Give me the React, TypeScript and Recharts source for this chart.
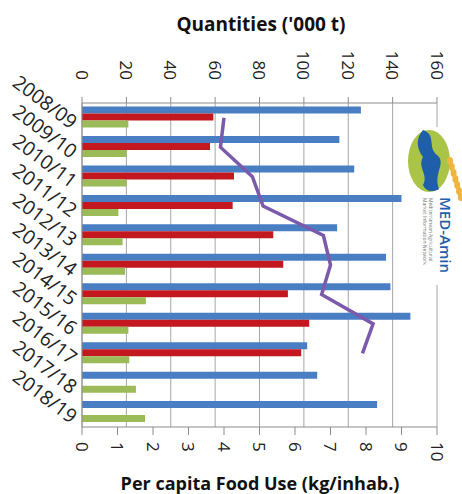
import {
  ComposedChart,
  Bar,
  Line,
  XAxis,
  YAxis,
  CartesianGrid,
} from "recharts";

// marketing years (category axis, top to bottom)
const YEARS = [
  "2008/09", "2009/10", "2010/11", "2011/12", "2012/13", "2013/14",
  "2014/15", "2015/16", "2016/17", "2017/18", "2018/19",
];

// quantities, '000 t (top axis)
const BLUE = [125.7, 116, 122.7, 144, 115, 137, 139, 148, 101.5, 106, 133];
const RED = [59.2, 57.7, 68.5, 67.9, 86.2, 90.7, 92.8, 102.4, 98.8, null, null];
const GREEN = [20.9, 20.1, 20.1, 16.4, 18.3, 19.4, 28.8, 20.9, 21.3, 24.3, 28.4];

// per capita food use, kg/inhab. (bottom axis)
const PER_CAPITA = [4.0, 3.9, 4.8, 5.1, 6.8, 7.0, 6.75, 8.2, 7.9, null, null];

const TOP_TICKS = [0, 20, 40, 60, 80, 100, 120, 140, 160];
const BOTTOM_TICKS = [0, 1, 2, 3, 4, 5, 6, 7, 8, 9, 10];

const data = YEARS.map((year, i) => ({
  year,
  blue: BLUE[i],
  red: RED[i],
  green: GREEN[i],
  perCapita: PER_CAPITA[i],
}));

const FONT = "'Open Sans', sans-serif";
const AXIS_COLOR = "#8c8c8c";

function TopTick({ x, y, payload }: any) {
  const ty = y - 15;
  return (
    <text
      x={x}
      y={ty}
      transform={`rotate(90, ${x}, ${ty})`}
      textAnchor="end"
      dominantBaseline="central"
      fontSize={17}
      fontFamily={FONT}
      fill="#222"
    >
      {payload.value}
    </text>
  );
}

function BottomTick({ x, y, payload }: any) {
  const ty = y + 5;
  return (
    <text
      x={x}
      y={ty}
      transform={`rotate(90, ${x}, ${ty})`}
      textAnchor="start"
      dominantBaseline="central"
      fontSize={17}
      fontFamily={FONT}
      fill="#222"
    >
      {payload.value}
    </text>
  );
}

function YearTick({ x, y, payload }: any) {
  const tx = x - 3;
  const ty = y + 6;
  return (
    <text
      x={tx}
      y={ty}
      transform={`rotate(37, ${tx}, ${ty})`}
      textAnchor="end"
      dominantBaseline="central"
      fontSize={19.5}
      fontFamily={FONT}
      fill="#222"
    >
      {payload.value}
    </text>
  );
}

// rough stand-in for the MED-Amin logo in the corner
function Logo() {
  return (
    <svg
      width={59}
      height={158}
      style={{ position: "absolute", left: 403, top: 127 }}
    >
      <rect x={0} y={0} width={59} height={158} fill="#fff" />
      <ellipse cx={26} cy={34} rx={21} ry={31} fill="#a9c447" />
      <path
        d="M20 3 C34 8 24 20 34 28 C44 36 30 46 36 62 C30 66 22 64 20 58 C26 48 14 40 20 30 C14 22 12 12 20 3 Z"
        fill="#1f5ea8"
      />
      {[0, 1, 2, 3, 4, 5, 6].map((k) => (
        <ellipse
          key={k}
          cx={47 + k * 1.8}
          cy={34 + k * 6}
          rx={3}
          ry={4}
          fill="#f0b541"
        />
      ))}
      <text
        x={37}
        y={70}
        transform="rotate(90, 37, 70)"
        fontSize={15}
        fontFamily={FONT}
        fill="#1f5ea8"
        fontWeight={600}
      >
        MED-Amin
      </text>
      <text
        x={26}
        y={71}
        transform="rotate(90, 26, 71)"
        fontSize={5}
        fontFamily={FONT}
        fill="#777"
      >
        Mediterranean Agricultural
      </text>
      <text
        x={20}
        y={71}
        transform="rotate(90, 20, 71)"
        fontSize={5}
        fontFamily={FONT}
        fill="#777"
      >
        Market Information Network
      </text>
    </svg>
  );
}

export default function App() {
  return (
    <div
      style={{
        position: "absolute",
        left: 0,
        top: 0,
        width: 462,
        height: 494,
        background: "#fff",
        fontFamily: FONT,
      }}
    >
      <div
        style={{
          position: "absolute",
          left: 0,
          width: 522,
          top: 11,
          textAlign: "center",
          fontWeight: 700,
          fontSize: 19,
          color: "#111",
          lineHeight: "26px",
        }}
      >
        Quantities ('000 t)
      </div>

      <ComposedChart
        width={462}
        height={494}
        data={data}
        layout="vertical"
        margin={{ top: 40, right: 25, bottom: 22, left: 0 }}
        barCategoryGap="12%"
        barGap={0}
      >
        <CartesianGrid
          xAxisId="top"
          horizontal={false}
          stroke="#a6a6a6"
          strokeWidth={1}
        />
        <XAxis
          xAxisId="top"
          orientation="top"
          type="number"
          domain={[0, 160]}
          ticks={TOP_TICKS}
          interval={0}
          height={63}
          tickSize={6}
          stroke={AXIS_COLOR}
          tick={<TopTick />}
        />
        <XAxis
          xAxisId="bottom"
          orientation="bottom"
          type="number"
          domain={[0, 10]}
          ticks={BOTTOM_TICKS}
          interval={0}
          height={45}
          tickSize={8}
          stroke={AXIS_COLOR}
          tick={<BottomTick />}
        />
        <YAxis
          type="category"
          dataKey="year"
          width={82}
          tickLine={false}
          tickSize={0}
          tickMargin={4}
          interval={0}
          stroke={AXIS_COLOR}
          tick={<YearTick />}
        />
        <Bar xAxisId="top" dataKey="blue" fill="#4a7ec3" isAnimationActive={false} />
        <Bar xAxisId="top" dataKey="red" fill="#c3181f" isAnimationActive={false} />
        <Bar xAxisId="top" dataKey="green" fill="#9bbb59" isAnimationActive={false} />
        <Line
          xAxisId="bottom"
          dataKey="perCapita"
          type="linear"
          stroke="#7b5aab"
          strokeWidth={3.5}
          dot={false}
          isAnimationActive={false}
        />
      </ComposedChart>

      <div
        style={{
          position: "absolute",
          left: 0,
          width: 520,
          top: 470,
          textAlign: "center",
          fontWeight: 700,
          fontSize: 18,
          color: "#111",
          lineHeight: "26px",
        }}
      >
        Per capita Food Use (kg/inhab.)
      </div>

      <Logo />
    </div>
  );
}
